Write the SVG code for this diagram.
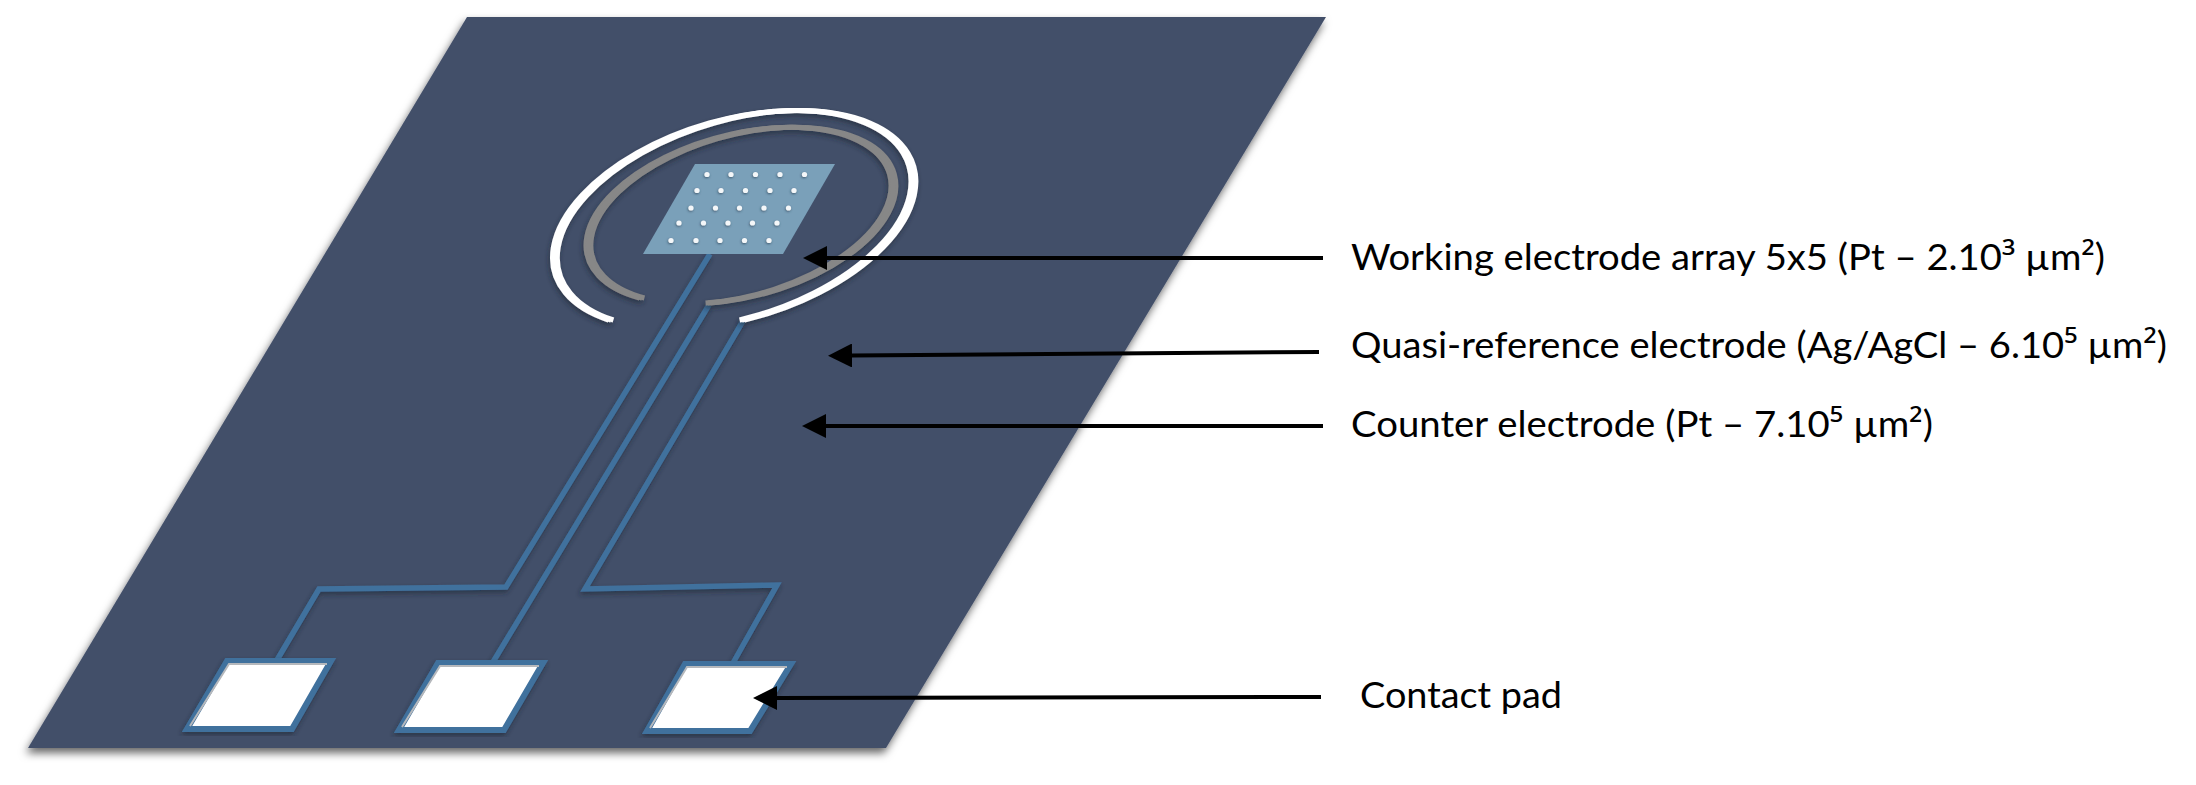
<svg xmlns="http://www.w3.org/2000/svg" width="2196" height="785" viewBox="0 0 2196 785">
<style>
.trace{fill:none;stroke:#41719d;stroke-width:5.500;stroke-linejoin:miter}
.pad{fill:#fff;stroke:#41719d;stroke-width:6;stroke-linejoin:miter}
.inset{fill:none;stroke:#b5b8bc;stroke-width:2}
.dot{fill:#f4f7f9;filter:url(#dd)}
.arrow{stroke:#000;stroke-width:4;fill:none;marker-end:url(#ah)}
.lbl{font-family:"Lato","Carlito","Noto Sans",sans-serif;font-size:36px;fill:#000}
.sup{font-family:"Noto Sans",sans-serif}
</style>
<defs>
<filter id="ss" x="-5%" y="-5%" width="110%" height="110%"><feDropShadow dx="-2" dy="5" stdDeviation="4" flood-color="#000" flood-opacity=".6"/></filter>
<filter id="ds" x="-10%" y="-10%" width="120%" height="120%"><feGaussianBlur in="SourceGraphic" stdDeviation=".6" result="b"/><feDropShadow in="b" dx="-1" dy="3" stdDeviation="2.500" flood-color="#1d2535" flood-opacity=".6"/></filter>
<filter id="dd" x="-100%" y="-100%" width="300%" height="300%"><feGaussianBlur in="SourceGraphic" stdDeviation=".4" result="b"/><feDropShadow in="b" dx="-.5" dy="1" stdDeviation=".8" flood-color="#2a3a50" flood-opacity=".7"/></filter>
<filter id="soft" x="-5%" y="-5%" width="110%" height="110%"><feGaussianBlur stdDeviation=".7"/></filter>
<marker id="ah" markerUnits="userSpaceOnUse" markerWidth="24" markerHeight="24" refX="0" refY="12" orient="auto"><path d="M0,0 L24,12 L0,24 z" fill="#000"/></marker>
<path id="outer" fill="none" d="M611,320 A185,99 -17 1 1 742,320"/>
<path id="inner" fill="none" d="M642,298 A156.500,80.900 -15.200 1 1 708,303"/>
</defs>
<rect width="2196" height="785" fill="#fff"/>
<g id="substrate"><polygon points="467,17 1326,17 886,748 28,748" fill="#435069" filter="url(#ss)"/></g>
<g id="traces" filter="url(#ds)">
<path class="trace" d="M710,254 L506,587 L319,589 L277,660"/>
<path class="trace" d="M709,305 L493,662"/>
<path class="trace" d="M743,321 L585,589 L777,585 L733,663"/>
</g>
<g id="counter-electrode" filter="url(#ds)" stroke="#fff" stroke-width="5">
<use href="#outer" x="-2.400"/><use href="#outer" x="2.400"/><use href="#outer"/>
</g>
<g id="reference-electrode" filter="url(#ds)" stroke="#878787" stroke-width="5">
<use href="#inner" x="-2.400"/><use href="#inner" x="2.400"/><use href="#inner"/>
</g>
<g id="working-electrode-array">
<polygon points="695,164 835,164 783,254 643,254" fill="#7aa0b9" filter="url(#soft)"/>
<g class="dot">
<circle cx="707" cy="174.500" r="2.600"/><circle cx="731" cy="174.500" r="2.600"/><circle cx="755.500" cy="174.500" r="2.600"/><circle cx="780" cy="174.500" r="2.600"/><circle cx="804.500" cy="174.500" r="2.600"/>
<circle cx="697" cy="190.500" r="2.600"/><circle cx="721" cy="190.500" r="2.600"/><circle cx="745.500" cy="190.500" r="2.600"/><circle cx="770" cy="190.500" r="2.600"/><circle cx="794" cy="190.500" r="2.600"/>
<circle cx="691" cy="208" r="2.600"/><circle cx="715.500" cy="208" r="2.600"/><circle cx="739.500" cy="208" r="2.600"/><circle cx="764" cy="208" r="2.600"/><circle cx="788.500" cy="208" r="2.600"/>
<circle cx="679" cy="223" r="2.600"/><circle cx="703.500" cy="223" r="2.600"/><circle cx="728" cy="223" r="2.600"/><circle cx="752.500" cy="223" r="2.600"/><circle cx="777" cy="223" r="2.600"/>
<circle cx="671" cy="240.500" r="2.600"/><circle cx="696" cy="240.500" r="2.600"/><circle cx="720" cy="240.500" r="2.600"/><circle cx="744.500" cy="240.500" r="2.600"/><circle cx="769" cy="240.500" r="2.600"/>
</g>
</g>
<g id="pad-1" filter="url(#ds)"><polygon class="pad" points="227,661 331,661 292,729 187,729"/><path class="inset" d="M190,726 L229,664 L327,664"/></g>
<g id="pad-2" filter="url(#ds)"><polygon class="pad" points="438,663 543,663 504,730 399,730"/><path class="inset" d="M402,727 L440,666 L539,666"/></g>
<g id="pad-3" filter="url(#ds)"><polygon class="pad" points="685,664 791,664 750,731 647,731"/><path class="inset" d="M650,728 L687,667 L787,667"/></g>
<g id="connectors">
<line class="arrow" x1="1323" y1="258" x2="827" y2="258"/>
<line class="arrow" x1="1319" y1="352" x2="852" y2="355.500"/>
<line class="arrow" x1="1323" y1="426" x2="826" y2="426"/>
<line class="arrow" x1="1321" y1="697" x2="777" y2="698"/>
</g>
<g id="labels">
<text class="lbl" x="1351" y="270" textLength="754" lengthAdjust="spacingAndGlyphs">Working electrode array 5x5 (Pt – 2.10<tspan class="sup">³</tspan> µm<tspan class="sup">²</tspan>)</text>
<text class="lbl" x="1351" y="358" textLength="816" lengthAdjust="spacingAndGlyphs">Quasi-reference electrode (Ag/AgCl – 6.10<tspan class="sup">⁵</tspan> µm<tspan class="sup">²</tspan>)</text>
<text class="lbl" x="1351" y="437" textLength="582" lengthAdjust="spacingAndGlyphs">Counter electrode (Pt – 7.10<tspan class="sup">⁵</tspan> µm<tspan class="sup">²</tspan>)</text>
<text class="lbl" x="1360" y="708" textLength="202" lengthAdjust="spacingAndGlyphs">Contact pad</text>
</g>
</svg>
